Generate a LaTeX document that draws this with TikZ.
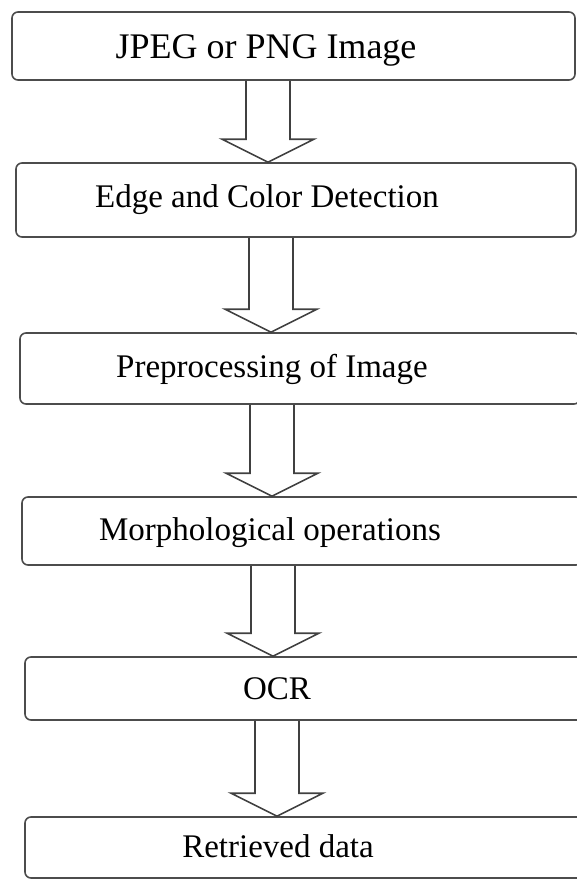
\documentclass[tikz,border=0pt]{standalone}
\usepackage{fontspec}
\setmainfont{Liberation Serif}
\usetikzlibrary{calc}

% hollow block arrow from the bottom of one stage to the top of the next
\newcommand{\flowarrow}[3]{%
  \draw[blockarrow] let \p1=(#1.south), \p2=(#2.north) in
    ({#3pt-22pt},\y1) -- ({#3pt-22pt},{\y2+23pt}) -- ({#3pt-46pt},{\y2+23pt})
    -- (#3pt,\y2) -- ({#3pt+46pt},{\y2+23pt}) -- ({#3pt+22pt},{\y2+23pt}) -- ({#3pt+22pt},\y1);
}

\begin{document}
\begin{tikzpicture}[x=1pt, y=-1pt, every node/.style={font=\fontsize{33}{36}\selectfont},
  every label/.style={text height=23pt, text depth=7pt},
  stage/.style={draw=black!70, line width=1.6pt, rounded corners=6pt, inner sep=0pt},
  blockarrow/.style={draw=black!75, line width=1.6pt, line join=miter}]
  \useasboundingbox (0,0) rectangle (577,879);

  \node[stage, minimum width=563pt, minimum height=68pt,
    label={[xshift=-27.5pt, yshift=-4pt, font=\fontsize{36}{40}\selectfont]center:JPEG or PNG Image}] (image) at (293.5,46) {};
  \node[stage, minimum width=560pt, minimum height=74pt,
    label={[xshift=-29pt, yshift=1pt]center:Edge and Color Detection}] (edge) at (296,200) {};
  \node[stage, minimum width=560pt, minimum height=71pt,
    label={[xshift=-28pt, yshift=-0.5pt]center:Preprocessing of Image}] (prep) at (300,368.5) {};
  \node[stage, minimum width=560pt, minimum height=68pt,
    label={[xshift=-32pt, yshift=-1pt]center:Morphological operations}] (morph) at (302,531) {};
  \node[stage, minimum width=560pt, minimum height=63pt,
    label={[xshift=-28pt, yshift=-2.5pt]center:OCR}] (ocr) at (305,688.5) {};
  \node[stage, minimum width=560pt, minimum height=61pt,
    label={[xshift=-27pt, yshift=-1.5pt]center:Retrieved data}] (data) at (305,847.5) {};

  \flowarrow{image}{edge}{268}
  \flowarrow{edge}{prep}{271}
  \flowarrow{prep}{morph}{272}
  \flowarrow{morph}{ocr}{273}
  \flowarrow{ocr}{data}{277}
\end{tikzpicture}
\end{document}
